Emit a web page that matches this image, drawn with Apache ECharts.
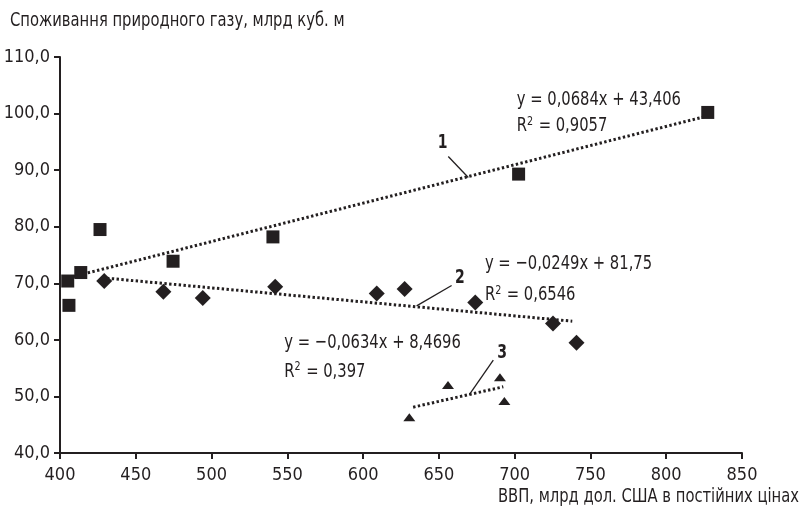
<!DOCTYPE html>
<html><head><meta charset="utf-8">
<script src="https://cdn.jsdelivr.net/npm/echarts@6/dist/echarts.min.js"></script>
<style>html,body{margin:0;padding:0;background:#fff}#c{width:803px;height:513px}</style>
</head><body><div id="c"></div>
<script>
// Series 1 (squares)
const s1X = [405.1, 405.9, 413.7, 426.4, 474.6, 540.5, 702.6, 827.4];
const s1Y = [70.4, 66.1, 71.9, 79.5, 73.9, 78.2, 89.3, 100.2];
// Series 2 (diamonds)
const s2X = [429.2, 468.2, 494.2, 542.0, 609.0, 627.4, 674.0, 725.3, 740.8];
const s2Y = [70.4, 68.5, 67.4, 69.4, 68.2, 69.0, 66.6, 62.9, 59.5];
// Series 3 (triangles)
const s3X = [630.5, 656.0, 690.3, 693.2];
const s3Y = [46.3, 52.0, 53.4, 49.2];
// Trend line endpoints
const t1X = [406, 826], t1Y = [71.0, 99.5];
const t2X = [431, 738], t2Y = [70.9, 63.3];
const t3X = [633, 692.5], t3Y = [48.1, 51.7];
// Axis
const xMin = 400, xMax = 850, xStep = 50;
const yMin = 40, yMax = 110, yStep = 10;
const yTitle = 'Споживання природного газу, млрд куб. м';
const xTitle = 'ВВП, млрд дол. США в постійних цінах';
// Annotations
const eqs = [
  {x: 701.4, y1: 102.5, y2: 97.8, eq: 'y = 0,0684x + 43,406', r2: '0,9057'},
  {x: 680.4, y1: 73.5, y2: 67.9, eq: 'y = −0,0249x + 81,75', r2: '0,6546'},
  {x: 548.0, y1: 59.4, y2: 54.4, eq: 'y = −0,0634x + 8,4696', r2: '0,397'}
];
const tags = [
  {t: '1', x: 652.5, y: 94.7, lx: [656.2, 669.4], ly: [92.4, 88.7]},
  {t: '2', x: 663.9, y: 70.9, lx: [658.4, 635.3], ly: [69.6, 66.0]},
  {t: '3', x: 691.8, y: 57.6, lx: [685.9, 670.1], ly: [56.4, 50.3]}
];

const C = '#231f20';
const FAM = '"DejaVu Sans Condensed", "DejaVu Sans", sans-serif';
const SX = 0.82;
const zip = (a, b) => a.map((v, i) => [v, b[i]]);
const dotted = {color: C, width: 3, type: [2.4, 2.4], cap: 'butt'};

const chart = echarts.init(document.getElementById('c'), null, {renderer: 'canvas'});
chart.setOption({
  animation: false,
  backgroundColor: '#fff',
  grid: {left: 60, right: 61, top: 57, bottom: 60},
  xAxis: {
    type: 'value', min: xMin, max: xMax, interval: xStep,
    axisLine: {lineStyle: {color: C, width: 2}},
    axisTick: {show: true, length: 6, lineStyle: {color: C, width: 2}},
    splitLine: {show: false},
    axisLabel: {color: C, fontFamily: FAM, fontSize: 18, margin: 13}
  },
  yAxis: {
    type: 'value', min: yMin, max: yMax, interval: yStep,
    axisLine: {show: true, lineStyle: {color: C, width: 2}},
    axisTick: {show: true, length: 6, lineStyle: {color: C, width: 2}},
    splitLine: {show: false},
    axisLabel: {color: C, fontFamily: FAM, fontSize: 18, margin: 10,
      formatter: v => v.toFixed(1).replace('.', ',')}
  },
  series: [
    {type: 'line', data: zip(t1X, t1Y), showSymbol: false, lineStyle: dotted, z: 1},
    {type: 'line', data: zip(t2X, t2Y), showSymbol: false, lineStyle: dotted, z: 1},
    {type: 'line', data: zip(t3X, t3Y), showSymbol: false, lineStyle: dotted, z: 1},
    {type: 'scatter', data: zip(s1X, s1Y), symbol: 'rect', symbolSize: 13, itemStyle: {color: C, opacity: 1}, z: 3},
    {type: 'scatter', data: zip(s2X, s2Y), symbol: 'diamond', symbolSize: 16, itemStyle: {color: C, opacity: 1}, z: 3},
    {type: 'scatter', data: zip(s3X, s3Y), symbol: 'triangle', symbolSize: [12, 8], itemStyle: {color: C, opacity: 1}, z: 3}
  ]
});

const px = (x, y) => chart.convertToPixel({gridIndex: 0}, [x, y]);
const g = [];
g.push({type: 'text', x: 10, y: 21, scaleX: SX, style: {text: yTitle, fill: C, font: '20px ' + FAM, verticalAlign: 'middle'}});
g.push({type: 'text', x: 799, y: 497, scaleX: SX, style: {text: xTitle, fill: C, font: '20px ' + FAM, align: 'right', verticalAlign: 'middle'}});
eqs.forEach(e => {
  const p1 = px(e.x, e.y1), p2 = px(e.x, e.y2);
  g.push({type: 'text', x: p1[0], y: p1[1], scaleX: SX, style: {text: e.eq, fill: C, font: '20px ' + FAM, verticalAlign: 'middle'}});
  g.push({type: 'text', x: p2[0], y: p2[1], scaleX: SX, style: {
    text: '{b|R}{s|2}{b| = ' + e.r2 + '}', verticalAlign: 'middle', fill: C,
    rich: {b: {fontSize: 20, fontFamily: FAM, fill: C},
           s: {fontSize: 13, fontFamily: FAM, fill: C, padding: [0, 1, 9, 0]}}
  }});
});
tags.forEach(t => {
  const p = px(t.x, t.y), a = px(t.lx[0], t.ly[0]), b = px(t.lx[1], t.ly[1]);
  g.push({type: 'text', x: p[0], y: p[1], scaleX: SX, style: {text: t.t, fill: C, font: 'bold 19px ' + FAM, align: 'center', verticalAlign: 'middle'}});
  g.push({type: 'line', shape: {x1: a[0], y1: a[1], x2: b[0], y2: b[1]}, style: {stroke: C, lineWidth: 1.3}});
});
chart.setOption({graphic: g});
</script></body></html>
